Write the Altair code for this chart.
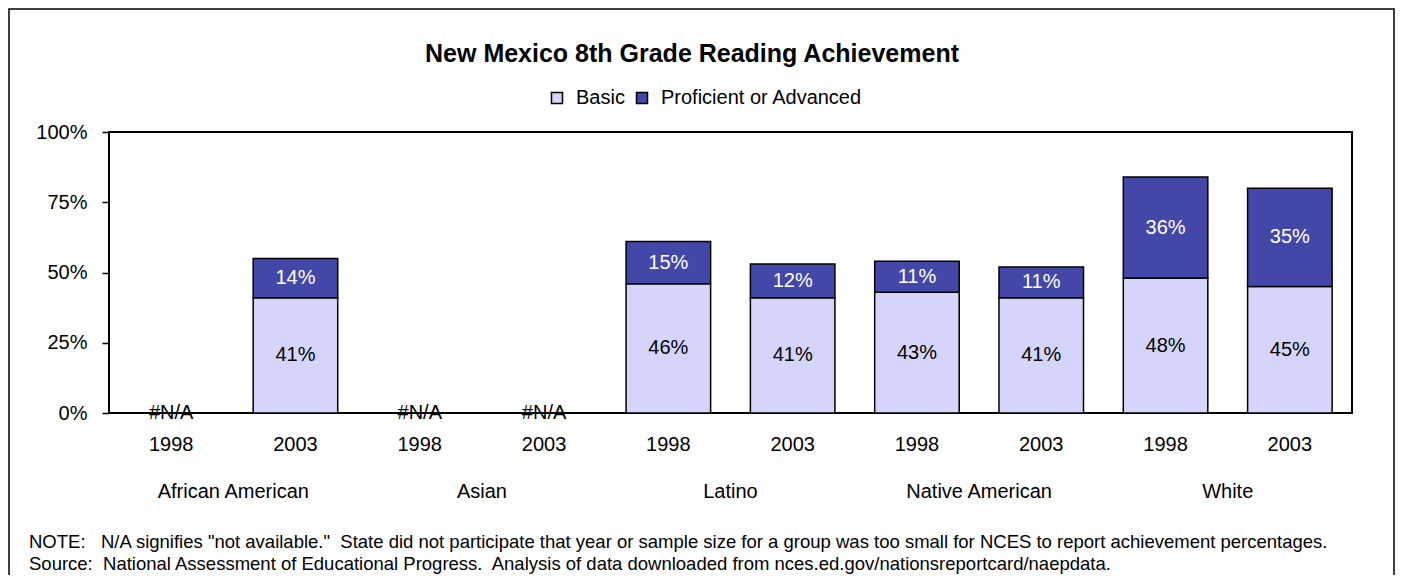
import altair as alt
import pandas as pd

# ---------------- data ----------------
groups = ["African American", "Asian", "Latino", "Native American", "White"]
years = ["1998", "2003"]
basic = [None, 41, None, None, 46, 41, 43, 41, 48, 45]
proficient = [None, 14, None, None, 15, 12, 11, 11, 36, 35]
series = ["Basic", "Proficient or Advanced"]
colors = ["#D5D5FB", "#4348A8"]
y_ticks = [0, 25, 50, 75, 100]

chart_title = "New Mexico 8th Grade Reading Achievement"
page_title = "Are there inequities in reading achievement? Have gaps narrowed over time?"
note_lines = [
    "NOTE:\u00a0\u00a0 N/A signifies \"not available.\"\u00a0 State did not participate that year or sample size for a group was too small for NCES to report achievement percentages.",
    "Source:\u00a0 National Assessment of Educational Progress.\u00a0 Analysis of data downloaded from nces.ed.gov/nationsreportcard/naepdata.",
]

keys = [f"{g}|{y}" for g in groups for y in years]

rows = []
for i, k in enumerate(keys):
    rows.append({"key": k, "series": series[0], "value": basic[i], "order": 0})
    rows.append({"key": k, "series": series[1], "value": proficient[i], "order": 1})
df = pd.DataFrame(rows)

na_df = pd.DataFrame({"key": [k for k, b in zip(keys, basic) if b is None]})
na_df["label"] = "#N/A"
na_df["zero"] = 0

group_df = pd.DataFrame({"group": groups})
one = pd.DataFrame({"a": [0]})
notes_df = pd.DataFrame({"line": note_lines, "row": [0, 1]})

# ---------------- layout ----------------
W, H = 1243, 281
FONT = "Liberation Sans"
FS = 20

x_scale = alt.Scale(domain=keys, paddingInner=0.32, paddingOuter=0.16)

base = (
    alt.Chart(df)
    .transform_filter("isValid(datum.value)")
    .transform_stack(stack="value", groupby=["key"], as_=["y0", "y1"],
                     sort=[alt.SortField("order")])
    .transform_calculate(mid="(datum.y0 + datum.y1) / 2", label="datum.value + '%'")
)

bars = base.mark_bar(stroke="black", strokeWidth=1.5).encode(
    x=alt.X("key:N", sort=keys, scale=x_scale,
            axis=alt.Axis(title=None, labelExpr="split(datum.value, '|')[1]",
                          labelAngle=0, ticks=False, domain=False, labelPadding=21,
                          labelFontSize=FS, labelFont=FONT, labelColor="black")),
    y=alt.Y("y1:Q", scale=alt.Scale(domain=[0, 100], nice=False),
            axis=alt.Axis(title=None, values=y_ticks, labelExpr="datum.value + '%'",
                          grid=False, domain=False, tickSize=7, tickColor="black",
                          tickWidth=1.5, labelPadding=15, labelFontSize=FS,
                          labelFont=FONT, labelColor="black")),
    y2="y0:Q",
    color=alt.Color("series:N", scale=alt.Scale(domain=series, range=colors),
                    legend=alt.Legend(orient="none", legendX=438, legendY=-44,
                                      direction="horizontal", title=None,
                                      symbolType="square", symbolSize=121,
                                      symbolStrokeColor="black", symbolStrokeWidth=1.5,
                                      labelFontSize=FS, labelFont=FONT,
                                      labelColor="black", columnPadding=7,
                                      labelOffset=9, labelLimit=0, padding=0)),
)

labels = base.mark_text(font=FONT, fontSize=FS, baseline="middle").encode(
    x=alt.X("key:N", sort=keys, scale=x_scale),
    y=alt.Y("mid:Q"),
    text="label:N",
    color=alt.condition("datum.order == 1", alt.value("white"), alt.value("black")),
)

na_text = alt.Chart(na_df).mark_text(font=FONT, fontSize=FS, baseline="middle",
                                     color="black").encode(
    x=alt.X("key:N", sort=keys, scale=x_scale),
    y=alt.Y("zero:Q"),
    text="label:N",
)

inner = alt.layer(bars, labels, na_text)

group_labels = alt.Chart(group_df).mark_text(font=FONT, fontSize=FS, baseline="middle",
                                             color="black").encode(
    x=alt.X("group:N", sort=groups,
            scale=alt.Scale(type="band", domain=groups, paddingInner=0, paddingOuter=0),
            axis=None),
    y=alt.value(H + 79),
    text="group:N",
)

frame = alt.Chart(one).mark_rect(fillOpacity=0, stroke="black", strokeWidth=1.5).encode(
    x=alt.value(-100), x2=alt.value(W + 42), y=alt.value(-123), y2=alt.value(H + 200)
)

title_text = alt.Chart(one).mark_text(text=chart_title, font=FONT, fontSize=25,
                                      fontWeight="bold", align="center",
                                      baseline="middle", color="black").encode(
    x=alt.value(583), y=alt.value(-78)
)

page_title_text = alt.Chart(one).mark_text(text=page_title, font=FONT, fontSize=26,
                                           fontWeight="bold", align="left",
                                           baseline="alphabetic",
                                           color="#3F47C0").encode(
    x=alt.value(-101), y=alt.value(-130)
)

notes = alt.Chart(notes_df).mark_text(font=FONT, fontSize=18.5, align="left",
                                      baseline="middle", color="black").encode(
    x=alt.value(-80),
    y=alt.Y("row:Q", scale=alt.Scale(domain=[0, 1], range=[H + 129, H + 151]), axis=None),
    text="line:N",
)

chart = (
    alt.layer(frame, page_title_text, title_text, inner, group_labels, notes)
    .resolve_scale(x="independent", y="independent")
    .properties(
        width=W, height=H,
        autosize=alt.AutoSizeParams(type="none"),
        padding={"left": 101, "top": 124, "right": 43, "bottom": 162},
    )
    .configure(font=FONT)
    .configure_view(stroke="black", strokeWidth=2)
)

chart.save("out.html", embed_options={"renderer": "svg", "actions": False})
